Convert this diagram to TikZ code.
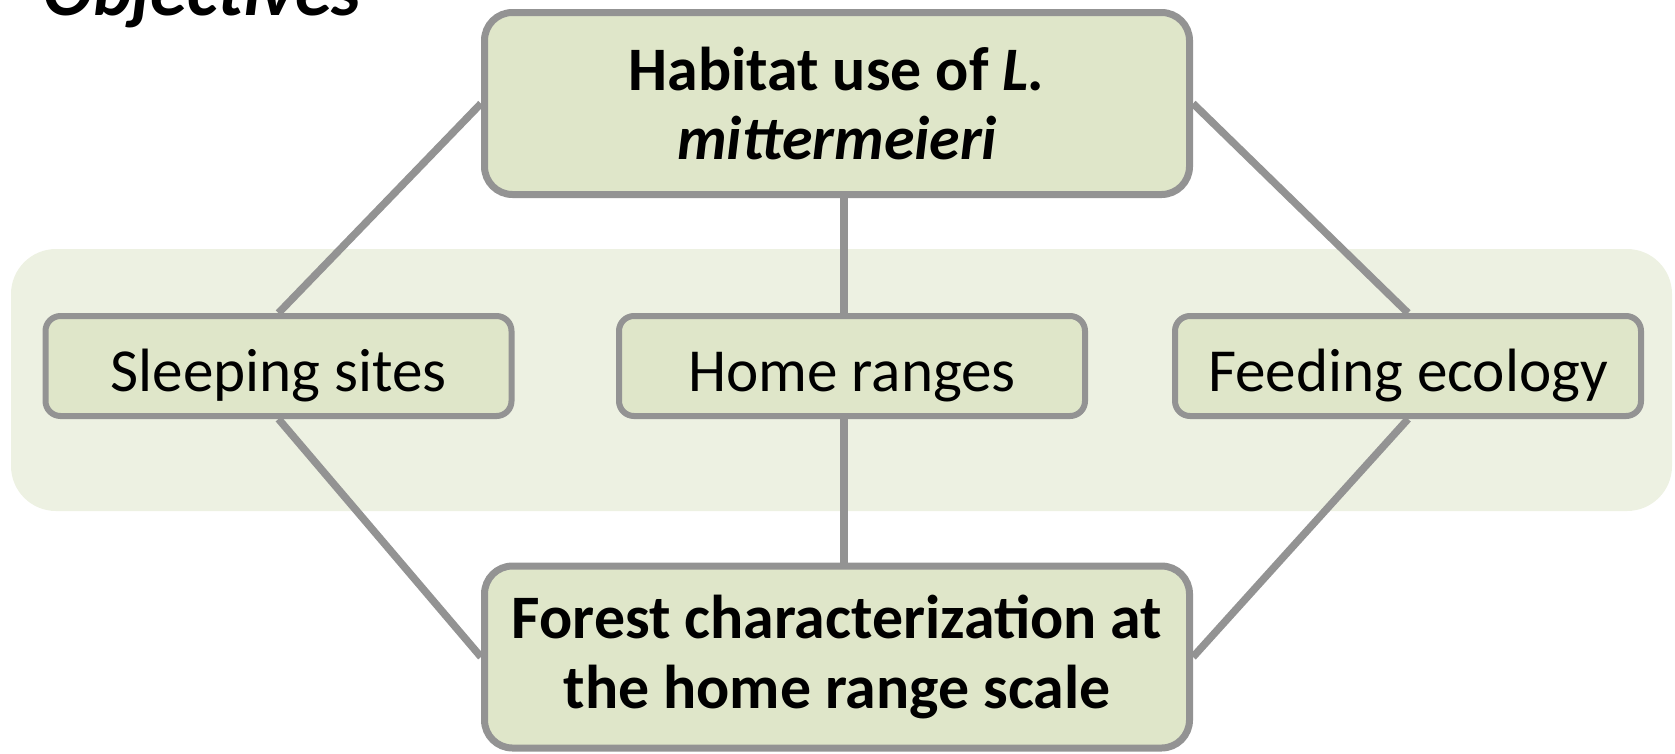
\documentclass[tikz,border=0pt]{standalone}
\usepackage{fontspec}
\setmainfont{Carlito}
\definecolor{boxgreen}{HTML}{DFE6C9}
\definecolor{bandgreen}{HTML}{EDF1E2}
\definecolor{linegray}{HTML}{939393}
\tikzset{
  bigbox/.style={draw=linegray, fill=boxgreen, line width=0.07cm, rounded corners=0.28cm,
    minimum width=7.05cm, minimum height=1.82cm, align=center, inner sep=0pt,
    font=\fontsize{17.6}{19.9}\selectfont\bfseries},
  smallbox/.style={draw=linegray, fill=boxgreen, line width=0.06cm, rounded corners=0.15cm,
    minimum width=4.66cm, minimum height=1.0cm, inner sep=0pt,
    text height=0.51cm, text depth=0pt,
    font=\fontsize{17.4}{19.9}\selectfont},
  link/.style={draw=linegray, line width=0.075cm}
}
\begin{document}
\begin{tikzpicture}
   \useasboundingbox (0,0) rectangle (16.75,-7.53);
   \fill[bandgreen, rounded corners=0.45cm] (0.11,-2.49) rectangle (16.72,-5.11);
   \node[anchor=base west, inner sep=0pt, font=\fontsize{21}{24}\selectfont\bfseries\itshape]
     (title) at (0.43,-0.15) {Objectives};
   \node[bigbox] (habitat) at (8.37,-1.035) {Habitat use of \textit{L.}\\\textit{mittermeieri}};
   \node[smallbox] (sleep) at (2.785,-3.66) {Sleeping sites};
   \node[smallbox] (home) at (8.52,-3.66) {Home ranges};
   \node[smallbox] (feed) at (14.08,-3.66) {Feeding ecology};
   \node[bigbox] (forest) at (8.37,-6.57) {Forest characterization at\\the home range scale};
   \coordinate (axis) at (8.44,0);
   \draw[link] (habitat.west) -- (sleep.north);
   \draw[link] (habitat.east) -- (feed.north);
   \draw[link] (habitat.south -| axis) -- (home.north -| axis);
   \draw[link] (sleep.south) -- (forest.west);
   \draw[link] (feed.south) -- (forest.east);
   \draw[link] (home.south -| axis) -- (forest.north -| axis);
\end{tikzpicture}
\end{document}
